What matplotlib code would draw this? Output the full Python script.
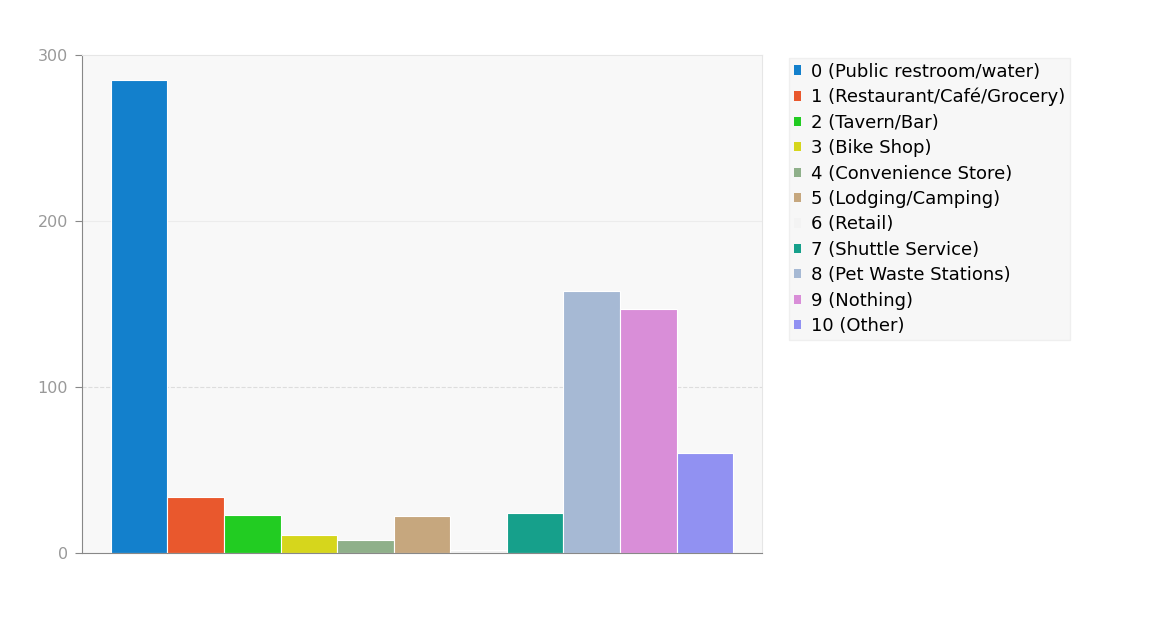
import matplotlib.pyplot as plt
from matplotlib.patches import Patch

plt.rcParams["font.family"] = ["DejaVu Sans"]

# данные
labels = ["0 (Public restroom/water)", "1 (Restaurant/Café/Grocery)", "2 (Tavern/Bar)",
          "3 (Bike Shop)", "4 (Convenience Store)", "5 (Lodging/Camping)", "6 (Retail)",
          "7 (Shuttle Service)", "8 (Pet Waste Stations)", "9 (Nothing)", "10 (Other)"]
values = [285, 34, 23, 11, 8, 22, 2, 24, 158, 147, 60]
colors = ["#1380cc", "#e9582d", "#22cc22", "#d6d61c", "#8fb08a", "#c6a77e",
          "#f3f3f3", "#16a08b", "#a6b9d4", "#d98ed8", "#9191f2"]

fig = plt.figure(figsize=(11.51, 6.30), dpi=100)
ax = fig.add_axes([82 / 1151, 1 - 553 / 630, (762 - 82) / 1151, (553 - 55) / 630])
ax.set_facecolor("#f8f8f8")

x = list(range(len(values)))
ax.bar(x, values, width=1.0, color=colors, edgecolor="white", linewidth=0.8)

ax.set_xlim(-1.01, 11.01)
ax.set_ylim(0, 300)
ax.set_yticks([0, 100, 200, 300])
ax.set_xticks([])
ax.tick_params(axis="y", colors="#888888", labelsize=11.5, length=5, pad=5)
for t in ax.get_yticklabels():
    t.set_color("#999999")

ax.axhline(200, color="#ececec", lw=0.8, zorder=0)
ax.axhline(100, color="#dddddd", lw=0.8, ls="--", zorder=0)

for side in ["top", "right"]:
    ax.spines[side].set_color("#e6e6e6")
ax.spines["left"].set_color("#888888")
ax.spines["bottom"].set_color("#888888")

handles = [Patch(facecolor=c, edgecolor="none") for c in colors]
leg = fig.legend(handles, labels, loc="upper left", bbox_to_anchor=(780 / 1151, 1 - 49 / 630),
                 fontsize=13, handlelength=0.42, handleheight=0.42, handletextpad=0.55,
                 labelspacing=0.41, borderpad=0.25, frameon=True, fancybox=False, shadow=False)
leg.get_frame().set_facecolor("#f6f6f6")
leg.get_frame().set_edgecolor("#ececec")

fig.savefig("out.png", dpi=100)
